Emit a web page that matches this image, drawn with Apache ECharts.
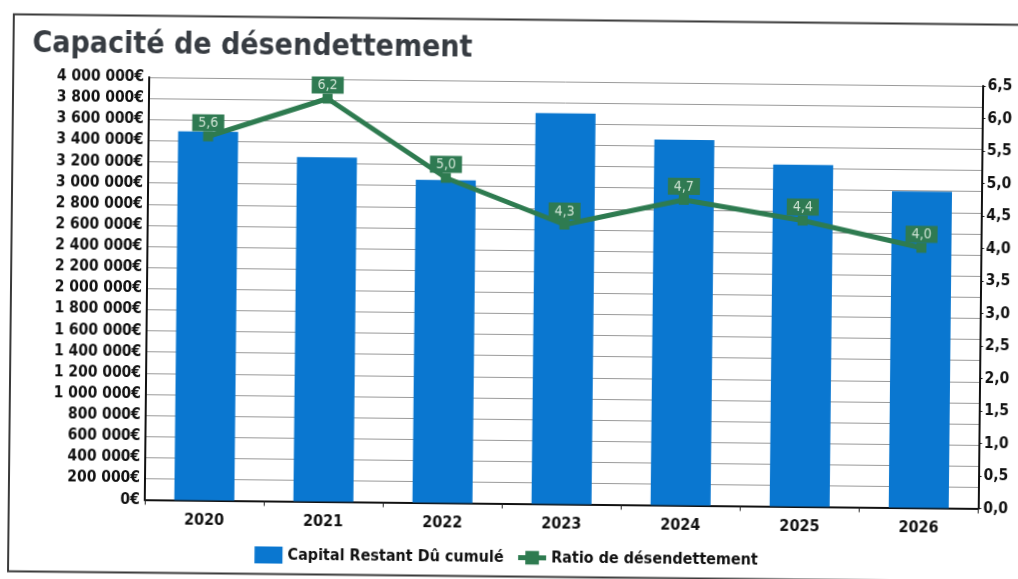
<!DOCTYPE html>
<html>
<head>
<meta charset="utf-8">
<title>Capacité de désendettement</title>
<script src="https://cdn.jsdelivr.net/npm/echarts@6/dist/echarts.min.js"></script>
<style>
  html, body { margin: 0; padding: 0; background: #ffffff; overflow: hidden; }
  #chart { width: 1018px; height: 579px; transform: rotate(0.6deg); transform-origin: 50% 50%; }
</style>
</head>
<body>
<div id="chart"></div>
<script>
// Years on the category axis
const categories = ['2020', '2021', '2022', '2023', '2024', '2025', '2026'];
// Outstanding capital (euros), left axis
const capitalValues = [3490000, 3260000, 3055000, 3700000, 3460000, 3235000, 2995000];
// Debt reduction ratio (years), right axis
const ratioValues = [5.6, 6.2, 5.0, 4.3, 4.7, 4.4, 4.0];
// Axis ranges
const capitalAxis = [0, 4000000, 200000];
const ratioAxis = [0, 6.5, 0.5];
const seriesNames = ['Capital Restant Dû cumulé', 'Ratio de désendettement'];

const FONT = '"DejaVu Sans Condensed", "DejaVu Sans", sans-serif';
const BAR_COLOR = '#0a77d0';
const LINE_COLOR = '#2e7b50';

function euros(v) {
  return String(Math.round(v)).replace(/\B(?=(\d{3})+(?!\d))/g, ' ') + '€';
}
function decimalComma(v) {
  return Number(v).toFixed(1).replace('.', ',');
}

const chart = echarts.init(document.getElementById('chart'), null, { renderer: 'canvas' });

chart.setOption({
  backgroundColor: '#ffffff',
  animation: false,
  title: {
    text: 'Capacité de désendettement',
    left: 25,
    top: 29,
    textStyle: { fontFamily: FONT, fontWeight: 'bold', fontSize: 30, color: '#373c42' }
  },
  graphic: [{
    type: 'rect',
    shape: { x: 11, y: 19.5, width: 1040, height: 557 },
    style: { fill: 'none', stroke: '#3a3a3a', lineWidth: 2 },
    silent: true,
    z: -1
  }],
  legend: {
    data: [
      { name: seriesNames[0], icon: 'rect' },
      { name: seriesNames[1], lineStyle: { width: 5 } }
    ],
    left: 'center',
    top: 544,
    itemWidth: 28,
    itemHeight: 17,
    itemGap: 12,
    textStyle: { fontFamily: FONT, fontWeight: 'bold', fontSize: 16, color: '#111111' }
  },
  grid: { left: 147, right: 37.5, top: 81, bottom: 75.5, containLabel: false },
  xAxis: {
    type: 'category',
    data: categories,
    axisLine: { lineStyle: { color: '#111111', width: 2 } },
    axisTick: { show: true, length: 5, lineStyle: { color: '#222222', width: 1 } },
    axisLabel: { fontFamily: FONT, fontWeight: 'bold', fontSize: 16, color: '#111111', margin: 12 }
  },
  yAxis: [{
    type: 'value',
    min: capitalAxis[0],
    max: capitalAxis[1],
    interval: capitalAxis[2],
    axisLine: { show: true, lineStyle: { color: '#111111', width: 2 } },
    axisTick: { show: false },
    splitLine: { show: true, lineStyle: { color: '#9a9a9a', width: 1 } },
    axisLabel: { fontFamily: FONT, fontWeight: 'bold', fontSize: 15.5, color: '#111111', margin: 5, formatter: euros }
  }, {
    type: 'value',
    position: 'right',
    min: ratioAxis[0],
    max: ratioAxis[1],
    interval: ratioAxis[2],
    axisLine: { show: true, lineStyle: { color: '#111111', width: 2 } },
    axisTick: { show: true, length: 3, lineStyle: { color: '#111111' } },
    splitLine: { show: false },
    axisLabel: { fontFamily: FONT, fontWeight: 'bold', fontSize: 15.5, color: '#111111', margin: 5, formatter: decimalComma }
  }],
  series: [{
    name: seriesNames[0],
    type: 'bar',
    data: capitalValues,
    barWidth: 60,
    itemStyle: { color: BAR_COLOR }
  }, {
    name: seriesNames[1],
    type: 'line',
    yAxisIndex: 1,
    data: ratioValues,
    color: LINE_COLOR,
    lineStyle: { color: LINE_COLOR, width: 5 },
    symbol: 'rect',
    symbolSize: 10,
    itemStyle: { color: LINE_COLOR },
    z: 3,
    label: {
      show: true,
      position: 'top',
      distance: 0,
      formatter: (p) => decimalComma(p.value),
      fontFamily: FONT,
      fontSize: 14,
      color: '#cfe3d4',
      backgroundColor: '#2f7a52',
      padding: [2, 6, 1, 6]
    }
  }]
});
</script>
</body>
</html>
